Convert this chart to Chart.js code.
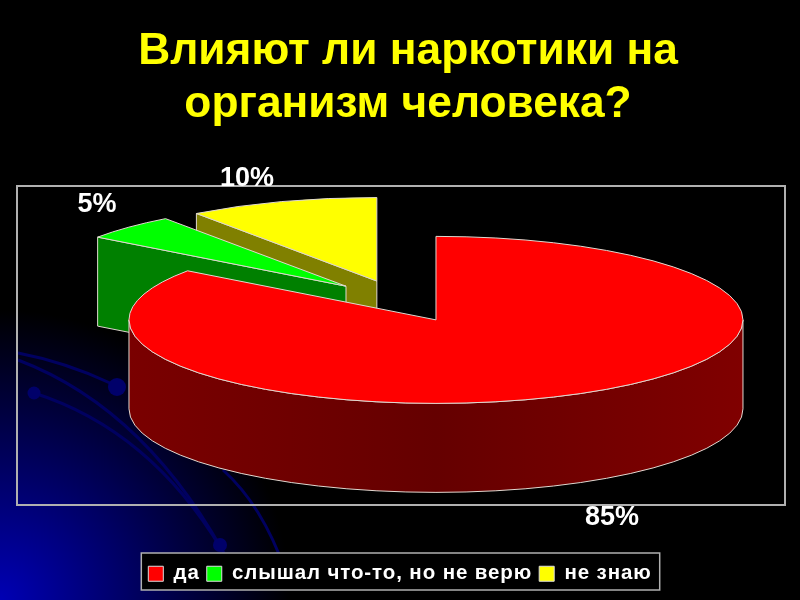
<!DOCTYPE html>
<html lang="ru">
  <head>
    <meta charset="UTF-8" />
    <title>Влияют ли наркотики на организм человека?</title>
    <style>
      html, body {
        margin: 0;
        width: 800px;
        height: 600px;
        overflow: hidden;
        background: radial-gradient(circle 290px at 0 600px, #0000b4, #000);
      }
      canvas { display: block; }
    </style>
  </head>
  <body>
    <canvas id="chart" width="800" height="600"></canvas>
    <script src="https://cdn.jsdelivr.net/npm/chart.js@4.4.1/dist/chart.umd.min.js"></script>
    <script>
      const categories = ["да", "слышал что-то, но не верю", "не знаю"];
      const values = [85, 5, 10];
      const titleLines = ["Влияют ли наркотики на", "организм человека?"];

      const topColors = ["#ff0000", "#00ff00", "#ffff00"];
      const wallColors = ["#700000", "#008000", "#808000"];
      const edgeColor = "#e0d8d0";

      // the flat pie is projected onto a tilted plane
      const view = { x: 400.8, y: 301.1, rx: 307, ry: 83.5, depth: 89, explode: 77.5 };
      const valueLabelPos = [[612, 518], [97, 205], [247, 179]];
      const legendTracking = "0.9px";

      // dark blue decoration of the slide
      const decoCurves = [
        [18, 353, 65, 362, 110, 383],
        [18, 360, 150, 410, 233, 570],
        [34, 393, 150, 430, 222, 550],
        [223, 470, 262, 505, 285, 570],
      ];
      const decoDots = [[117, 387, 9], [34, 393, 6.5], [220, 545, 7]];

      function visibleWalls(ctx, p, arc, i) {
        const a0 = arc.startAngle;
        const a1 = arc.endAngle;
        const d = view.depth;
        const radial = (a) => {
          const ex = p.x + Math.cos(a) * view.rx;
          const ey = p.y + Math.sin(a) * view.ry;
          ctx.beginPath();
          ctx.moveTo(p.x, p.y);
          ctx.lineTo(ex, ey);
          ctx.lineTo(ex, ey + d);
          ctx.lineTo(p.x, p.y + d);
          ctx.closePath();
          ctx.fillStyle = wallColors[i];
          ctx.fill();
          ctx.stroke();
        };
        if (Math.sin(a0 - Math.PI / 2) > 0.001) radial(a0);
        if (Math.sin(a1 + Math.PI / 2) > 0.001) radial(a1);

        const from = Math.max(a0, 0);
        const to = Math.min(a1, Math.PI);
        if (to > from) {
          const shade = ctx.createLinearGradient(p.x - view.rx, 0, p.x + view.rx, 0);
          shade.addColorStop(0, "#7a0000");
          shade.addColorStop(0.5, "#650000");
          shade.addColorStop(1, "#800000");
          ctx.beginPath();
          ctx.ellipse(p.x, p.y, view.rx, view.ry, 0, from, to);
          ctx.lineTo(p.x + Math.cos(to) * view.rx, p.y + Math.sin(to) * view.ry + d);
          ctx.ellipse(p.x, p.y + d, view.rx, view.ry, 0, to, from, true);
          ctx.closePath();
          ctx.fillStyle = shade;
          ctx.fill();
          ctx.stroke();
        }
      }

      const pie3d = {
        id: "pie3d",
        beforeLayout(chart) {
          chart.ctx.letterSpacing = legendTracking;
        },
        afterLayout(chart) {
          chart.ctx.letterSpacing = "0px";
          // slide title sits a little right of the middle
          chart.titleBlock.left += 8;
          chart.titleBlock.right += 8;
          const legend = chart.legend;
          const drawLegend = legend.draw;
          legend.draw = function (area) {
            chart.ctx.letterSpacing = legendTracking;
            drawLegend.call(legend, area);
            chart.ctx.letterSpacing = "0px";
          };
        },
        beforeDraw(chart) {
          const ctx = chart.ctx;
          ctx.save();
          ctx.strokeStyle = "#000060";
          ctx.lineWidth = 3;
          decoCurves.forEach((c) => {
            ctx.beginPath();
            ctx.moveTo(c[0], c[1]);
            ctx.quadraticCurveTo(c[2], c[3], c[4], c[5]);
            ctx.stroke();
          });
          ctx.fillStyle = "#00006a";
          decoDots.forEach((c) => {
            ctx.beginPath();
            ctx.arc(c[0], c[1], c[2], 0, Math.PI * 2);
            ctx.fill();
          });

          ctx.strokeStyle = "#b0b0b0";
          ctx.lineWidth = 2;
          ctx.strokeRect(17, 186, 768, 319);

          // box around the legend
          const boxes = chart.legend.legendHitBoxes;
          const last = boxes[boxes.length - 1];
          const lx = boxes[0].left - 7;
          const lw = last.left + last.width + 8 - lx;
          ctx.fillStyle = "#000";
          ctx.fillRect(lx, 553, lw, 37);
          ctx.lineWidth = 1.5;
          ctx.strokeRect(lx, 553, lw, 37);
          ctx.restore();
        },
        beforeDatasetsDraw(chart) {
          const ctx = chart.ctx;
          const arcs = chart.getDatasetMeta(0).data;
          const sx = view.rx / arcs[0].outerRadius;
          const sy = view.ry / arcs[0].outerRadius;

          // back slices first
          [2, 1, 0].forEach((i) => {
            const arc = arcs[i];
            const mid = (arc.startAngle + arc.endAngle) / 2;
            const p = {
              x: view.x + Math.cos(mid) * view.explode,
              y: view.y + Math.sin(mid) * view.explode * (view.ry / view.rx),
            };
            ctx.save();
            ctx.strokeStyle = edgeColor;
            ctx.lineWidth = 1;
            visibleWalls(ctx, p, arc, i);

            ctx.save();
            ctx.transform(sx, 0, 0, sy, p.x - sx * arc.x, p.y - sy * arc.y);
            arc.draw(ctx);
            ctx.restore();

            ctx.beginPath();
            ctx.moveTo(p.x, p.y);
            ctx.ellipse(p.x, p.y, view.rx, view.ry, 0, arc.startAngle, arc.endAngle);
            ctx.closePath();
            ctx.stroke();
            ctx.restore();
          });

          ctx.save();
          ctx.fillStyle = "#fff";
          ctx.font = "bold 27px 'Liberation Sans'";
          ctx.textAlign = "center";
          ctx.textBaseline = "middle";
          values.forEach((v, i) => {
            ctx.fillText(v + "%", valueLabelPos[i][0], valueLabelPos[i][1]);
          });
          ctx.restore();
          return false;
        },
      };

      new Chart(document.getElementById("chart"), {
        type: "pie",
        data: {
          labels: categories,
          datasets: [
            {
              data: values,
              backgroundColor: topColors,
              borderWidth: 0,
            },
          ],
        },
        plugins: [pie3d],
        options: {
          responsive: false,
          animation: false,
          events: [],
          layout: { padding: { bottom: 6 } },
          plugins: {
            tooltip: { enabled: false },
            title: {
              display: true,
              text: titleLines,
              color: "#ffff00",
              font: { family: "'Liberation Sans'", size: 44.3, weight: "bold", lineHeight: 1.18 },
              padding: { top: 26, bottom: 10 },
            },
            legend: {
              position: "bottom",
              labels: {
                color: "#fff",
                boxWidth: 15,
                boxHeight: 15,
                padding: 7,
                font: { family: "'Liberation Sans'", size: 20.5, weight: "bold" },
                generateLabels(chart) {
                  return Chart.overrides.pie.plugins.legend.labels
                    .generateLabels(chart)
                    .map((l) => ({ ...l, lineWidth: 1, strokeStyle: "#ddd" }));
                },
              },
            },
          },
        },
      });
    </script>
  </body>
</html>
